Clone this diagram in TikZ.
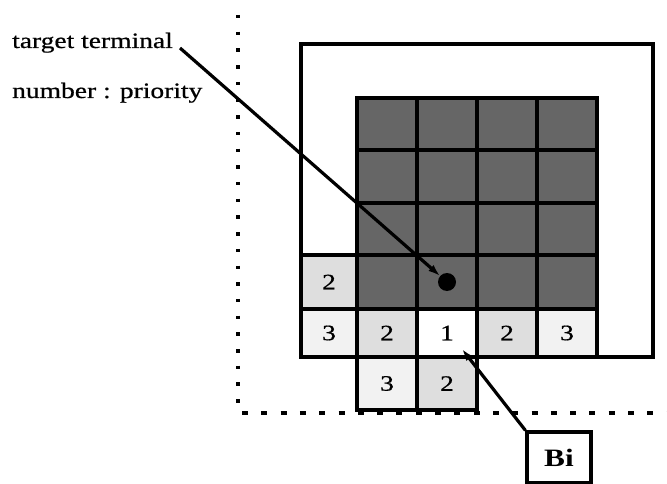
\documentclass[tikz,border=0pt]{standalone}
\usepackage{fontspec}
\usepackage{graphicx}
\setmainfont{Liberation Serif}
\newfontfamily\heavyserif[FakeBold=0.6]{Liberation Serif}
\usetikzlibrary{arrows.meta,calc}

% text is set slightly widened
\newcommand{\stretchtext}[1]{\scalebox{1.25}[1]{#1}}
\newcommand{\numfont}{\heavyserif\fontsize{22}{26}\selectfont}
\newcommand{\bifont}{\fontsize{25}{29}\selectfont\bfseries}

\begin{document}
\begin{tikzpicture}[x=1pt,y=-1pt,
  cell/.style={draw, line width=3.4pt, inner sep=0pt, font=\numfont},
  dark/.style={cell, fill=black!60},
  light/.style={cell, fill=black!13},
  pale/.style={cell, fill=black!5},
  blank/.style={cell, fill=white},
  conn/.style={line width=3.2pt, -{Latex[length=12pt,width=8pt]}},
  label/.style={anchor=base west, inner sep=0pt, font=\numfont},
  box/.style={draw, line width=3.2pt, inner sep=0pt},
]
\useasboundingbox (0,0) rectangle (667,484);

% region boundary (dotted)
\draw[line width=3.8pt, dash pattern=on 3.5pt off 13.2pt] (238,15) -- (238,410);
\draw[line width=3.8pt, dash pattern=on 6pt off 13.3pt] (242,413) -- (667,413);

% outer frame
\node[box, minimum width=352, minimum height=313] (frame) at (477,200.5) {};

% 4x4 block of occupied cells
\foreach \r/\y/\h in {1/124/52, 2/176.5/53, 3/229/52, 4/282/54}{
  \foreach \c/\x in {1/387, 2/447, 3/507, 4/567}{
    \node[dark, minimum width=60, minimum height=\h] (c\r\c) at (\x,\y) {};
  }
}

% priority cells
\node[light, minimum width=56, minimum height=54] (c40) at (329,282) {\stretchtext{2}};
\node[pale,  minimum width=56, minimum height=48] (c50) at (329,333) {\stretchtext{3}};
\node[light, minimum width=60, minimum height=48] (c51) at (387,333) {\stretchtext{2}};
\node[blank, minimum width=60, minimum height=48] (c52) at (447,333) {\stretchtext{1}};
\node[light, minimum width=60, minimum height=48] (c53) at (507,333) {\stretchtext{2}};
\node[pale,  minimum width=60, minimum height=48] (c54) at (567,333) {\stretchtext{3}};
\node[pale,  minimum width=60, minimum height=53] (c61) at (387,383.5) {\stretchtext{3}};
\node[light, minimum width=60, minimum height=53] (c62) at (447,383.5) {\stretchtext{2}};

% target terminal
\node[circle, fill=black, minimum size=18, inner sep=0pt] (dot) at (c42.center) {};

% legend
\node[label] (tt) at (12,48) {\stretchtext{target terminal}};
\node[label] (np) at (12,98) {\stretchtext{number : priority}};

% Bi box
\node[box, minimum width=64, minimum height=51, font=\bifont] (bi) at (559,457.5) {\stretchtext{Bi}};
\coordinate (bitip) at ($(c52.center)+(15,16)$);

% connectors
\draw[conn] ($(tt.base east)+(7,0)$) -- (dot);
\draw[conn] (bi.north west) -- (bitip);
\end{tikzpicture}
\end{document}
